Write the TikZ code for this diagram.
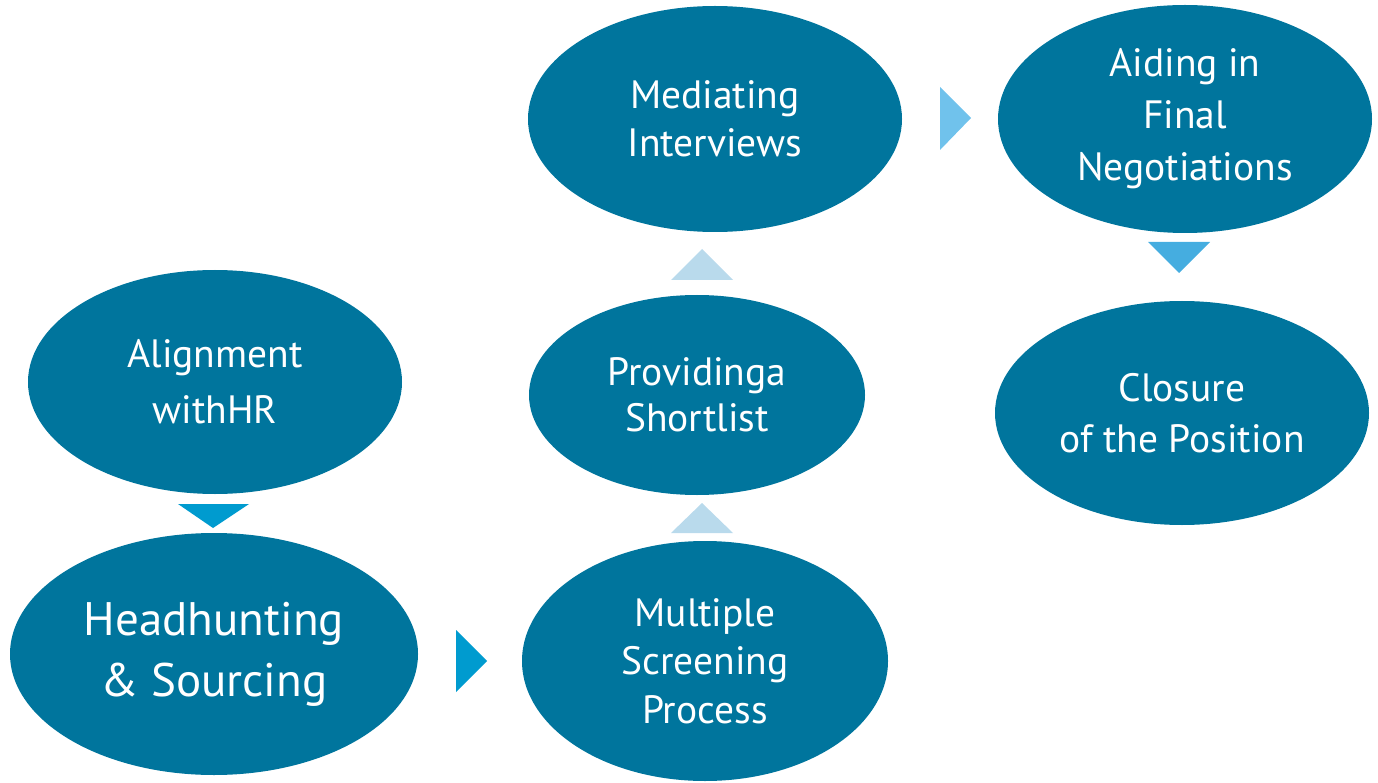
\documentclass[tikz,border=0pt]{standalone}
\usepackage{fontspec}
\setmainfont{PT Sans}
\usetikzlibrary{shapes.geometric}
\definecolor{ellblue}{RGB}{0,117,157}
\definecolor{arrA}{RGB}{0,155,207}
\definecolor{arrLight}{RGB}{185,218,236}
\definecolor{arrB}{RGB}{112,194,236}
\definecolor{arrC}{RGB}{69,173,224}
\tikzset{
  stepell/.style={ellipse, fill=ellblue, text=white, align=center, inner sep=0pt},
  fs/.style={font=\fontsize{39.5}{#1}\selectfont}
}
\begin{document}
\begin{tikzpicture}[x=1pt,y=-1pt]
\useasboundingbox (0,0) rectangle (1378,783);
\node[stepell, fs=56, minimum width=374, minimum height=224] (align) at (215,382) {Alignment\\withHR};
\node[stepell, minimum width=408, minimum height=242, font=\fontsize{47}{61}\selectfont] (head) at (214,654) {Headhunting\\\& Sourcing};
\node[stepell, fs=48.5, minimum width=366, minimum height=240] (multi) at (705,661) {Multiple\\Screening\\Process};
\node[stepell, fs=46, minimum width=336, minimum height=200] (short) at (697,395) {Providinga\\Shortlist};
\node[stepell, fs=48, minimum width=374, minimum height=226] (med) at (715,119) {Mediating\\Interviews};
\node[stepell, fs=52, minimum width=374, minimum height=228] (aid) at (1185,119) {Aiding in\\Final\\Negotiations};
\node[stepell, fs=51, minimum width=374, minimum height=224] (close) at (1182,413) {Closure\\of the Position};
% arrows
\coordinate (d1a) at (178,504); \coordinate (d1b) at (249,504); \coordinate (d1c) at (213,528);
\fill[arrA] (d1a) -- (d1b) -- (d1c) -- cycle;
\coordinate (r1a) at (456,630); \coordinate (r1b) at (456,692); \coordinate (r1c) at (487,661);
\fill[arrA] (r1a) -- (r1b) -- (r1c) -- cycle;
\coordinate (u1a) at (671,533); \coordinate (u1b) at (733,533); \coordinate (u1c) at (702,503);
\fill[arrLight] (u1a) -- (u1b) -- (u1c) -- cycle;
\coordinate (u2a) at (671,280); \coordinate (u2b) at (733,280); \coordinate (u2c) at (702,249);
\fill[arrLight] (u2a) -- (u2b) -- (u2c) -- cycle;
\coordinate (r2a) at (940,87); \coordinate (r2b) at (940,150); \coordinate (r2c) at (971,118);
\fill[arrB] (r2a) -- (r2b) -- (r2c) -- cycle;
\coordinate (d2a) at (1148,242); \coordinate (d2b) at (1210,242); \coordinate (d2c) at (1179,273);
\fill[arrC] (d2a) -- (d2b) -- (d2c) -- cycle;
\end{tikzpicture}
\end{document}
